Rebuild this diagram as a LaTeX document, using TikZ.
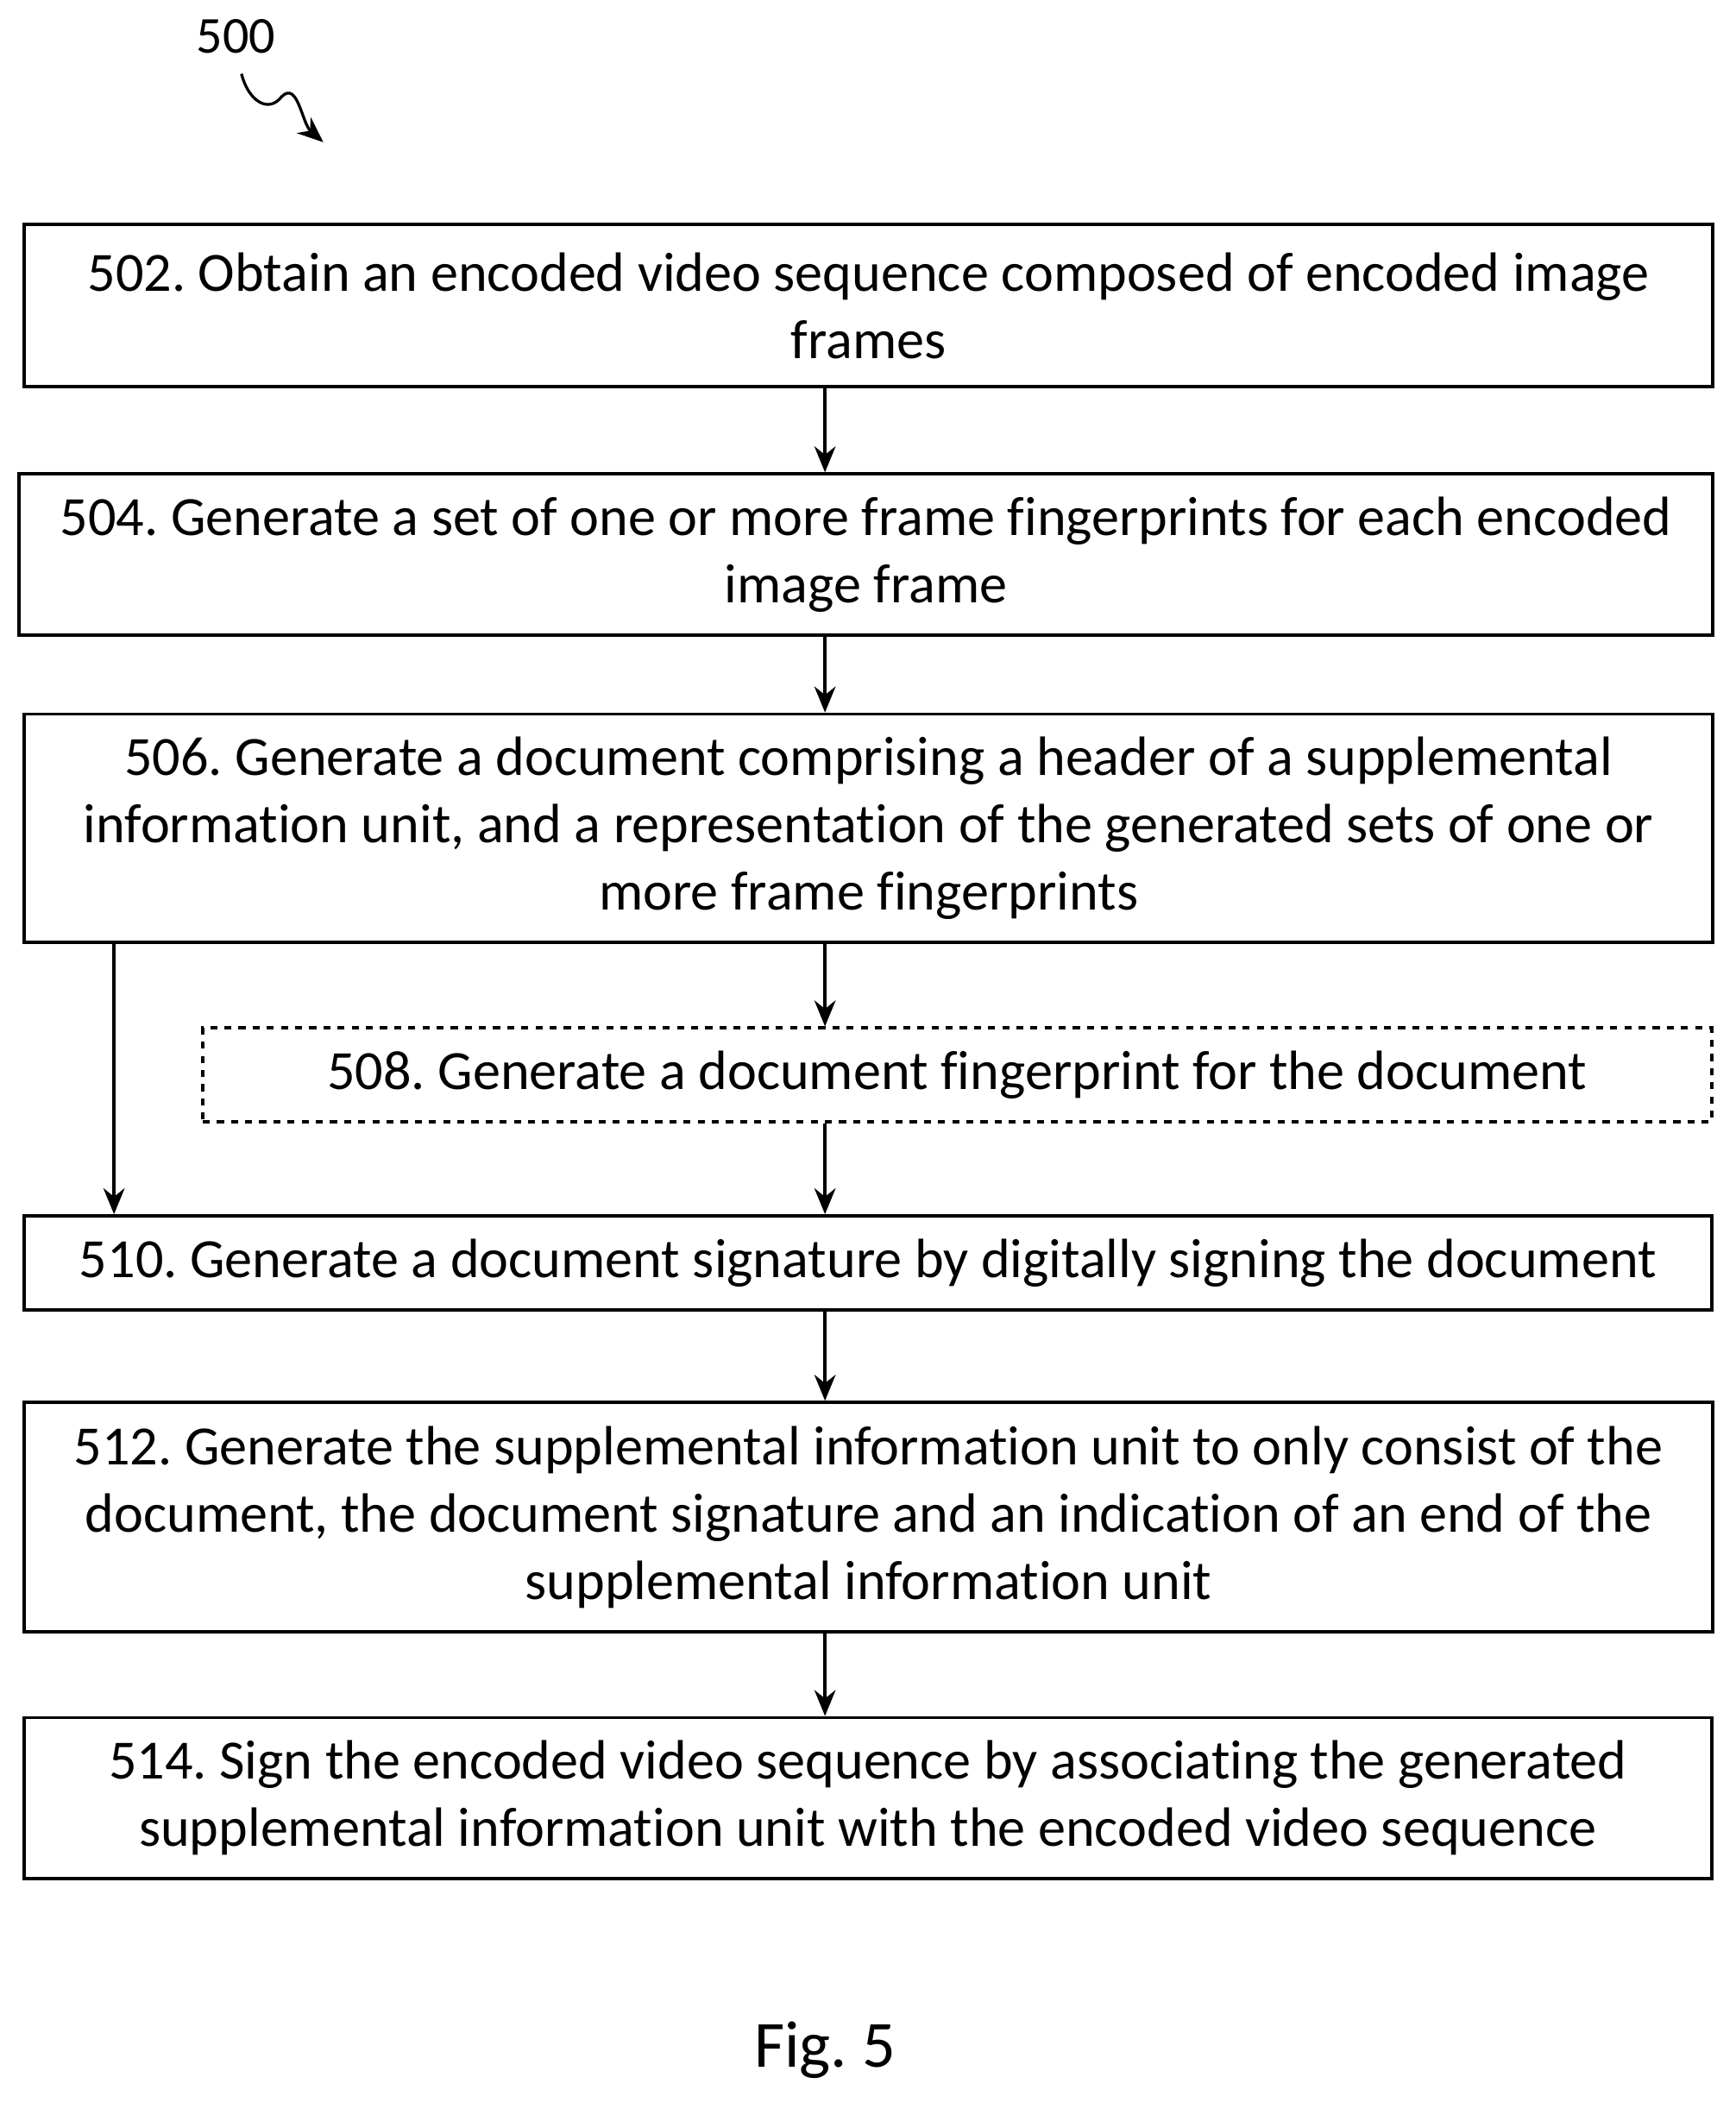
\documentclass[tikz,border=0pt]{standalone}
\usepackage{fontspec}
\setmainfont{Carlito}[Ligatures={NoCommon,NoRare,NoDiscretionary}]
\usetikzlibrary{arrows.meta}
\frenchspacing
\begin{document}
\begin{tikzpicture}[x=0.02cm,y=-0.02cm,
  stepbox/.style={draw,line width=1.4pt,align=center,font=\fontsize{23.5}{28.5}\selectfont,inner sep=0pt,yshift=-3pt},
  arr/.style={-{Stealth[length=11pt,width=9pt]},line width=1.4pt}]
\useasboundingbox (0,0) rectangle (1294,1572);
\node[stepbox,minimum width=25.18cm,minimum height=2.42cm] (n502) at (647.5,222.5) {502. Obtain an encoded video sequence composed of encoded image\\frames};
\node[stepbox,minimum width=25.26cm,minimum height=2.4cm] (n504) at (645.5,408) {504. Generate a set of one or more frame fingerprints for each encoded\\image frame};
\node[stepbox,minimum width=25.18cm,minimum height=3.4cm] (n506) at (647.5,612) {506. Generate a document comprising a header of a supplemental\\information unit, and a representation of the generated sets of one or\\more frame fingerprints};
\node[stepbox,dashed,minimum width=22.5cm,minimum height=1.4cm] (n508) at (713.5,796) {508. Generate a document fingerprint for the document};
\node[stepbox,minimum width=25.16cm,minimum height=1.4cm] (n510) at (647,936) {510. Generate a document signature by digitally signing the document};
\node[stepbox,minimum width=25.18cm,minimum height=3.42cm] (n512) at (647.5,1125.5) {512. Generate the supplemental information unit to only consist of the\\document, the document signature and an indication of an end of the\\supplemental information unit};
\node[stepbox,minimum width=25.16cm,minimum height=2.4cm] (n514) at (647,1335) {514. Sign the encoded video sequence by associating the generated\\supplemental information unit with the encoded video sequence};
\node[font=\fontsize{22}{26}\selectfont] (lbl) at (176,27) {500};
\node[font=\fontsize{28}{32}\selectfont] (fig) at (615,1528) {Fig. 5};
\coordinate (s0) at (180,55);
\coordinate (s1) at (241,106);
\draw[arr,line width=1.2pt] (s0) .. controls (185,75) and (200,85) .. (210,72) .. controls (222,60) and (225,92) .. (s1);
\draw[arr] (n502.south -| 615,0) -- (n504.north -| 615,0);
\draw[arr] (n504.south -| 615,0) -- (n506.north -| 615,0);
\draw[arr] (n506.south -| 615,0) -- (n508.north -| 615,0);
\draw[arr] (n508.south -| 615,0) -- (n510.north -| 615,0);
\draw[arr] (n510.south -| 615,0) -- (n512.north -| 615,0);
\draw[arr] (n512.south -| 615,0) -- (n514.north -| 615,0);
\draw[arr] (n506.south -| 85,0) -- (n510.north -| 85,0);
\end{tikzpicture}
\end{document}
